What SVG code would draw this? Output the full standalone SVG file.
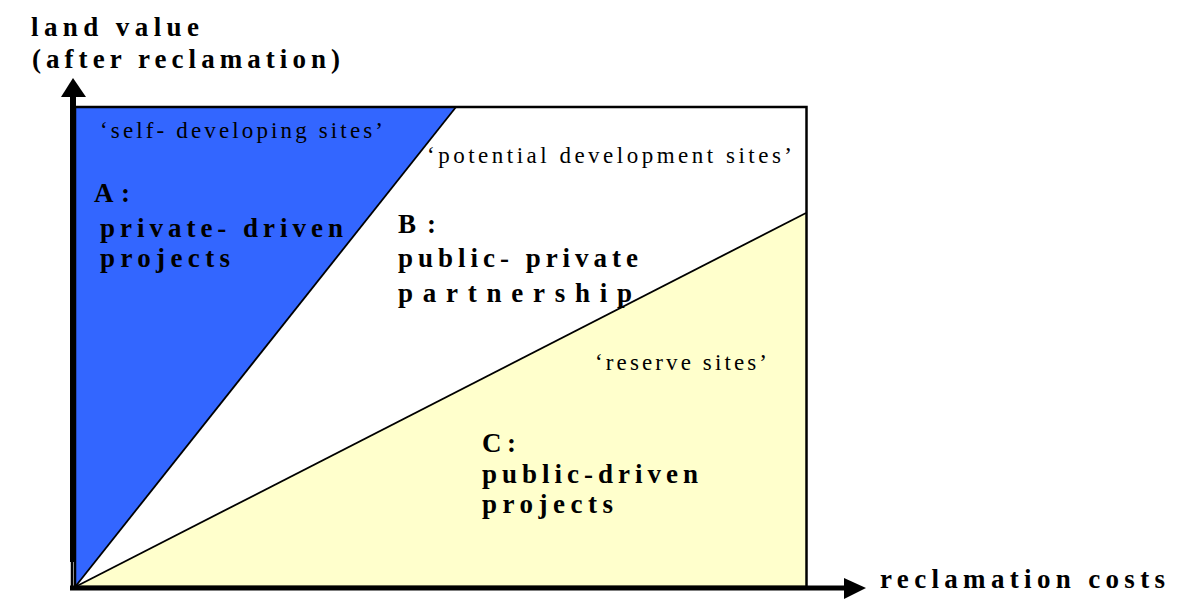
<svg xmlns="http://www.w3.org/2000/svg" width="1200" height="613" viewBox="0 0 1200 613">
<style>
.axis{stroke:#000;fill:none}
.big{font-family:"Liberation Serif",serif;font-weight:bold;font-size:27px;fill:#000}
.small{font-family:"Liberation Serif",serif;font-size:23px;fill:#000}
</style>
<rect width="1200" height="613" fill="#fff"/>
<g id="regions">
<polygon id="region-A" points="75,107 456,107 75,587" fill="#3366ff"/>
<polygon id="region-C" points="75,587 806,213 806,587" fill="#ffffcc"/>
<rect x="75" y="107" width="731.5" height="480" fill="none" stroke="#000" stroke-width="2.5"/>
</g>
<g id="connectors">
<line x1="456" y1="107" x2="75" y2="587" stroke="#000" stroke-width="1.8"/>
<line x1="806" y1="213" x2="75" y2="587" stroke="#000" stroke-width="1.8"/>
<line class="axis" x1="73" y1="95" x2="73" y2="562" stroke-width="6"/>
<line class="axis" x1="72" y1="560" x2="72" y2="588" stroke-width="2.5"/>
<polygon points="73,78 86,97 61,97" fill="#000"/>
<line class="axis" x1="70" y1="588" x2="848" y2="588" stroke-width="5"/>
<polygon points="866,588 844,578 844,599" fill="#000"/>
</g>
<g id="y-axis-label">
<text class="big" x="31" y="36" textLength="168" lengthAdjust="spacing">land value</text>
<text class="big" x="32" y="68" textLength="308" lengthAdjust="spacing">(after reclamation)</text>
</g>
<g id="x-axis-label">
<text class="big" x="880" y="588" textLength="285" lengthAdjust="spacing">reclamation costs</text>
</g>
<g id="node-A">
<text class="small" x="100" y="138" textLength="283" lengthAdjust="spacing">‘self- developing sites’</text>
<text class="big" x="94" y="202" textLength="36" lengthAdjust="spacing">A:</text>
<text class="big" x="100" y="237" textLength="243" lengthAdjust="spacing">private- driven</text>
<text class="big" x="100" y="267" textLength="130" lengthAdjust="spacing">projects</text>
</g>
<g id="node-B">
<text class="small" x="427" y="163" textLength="365" lengthAdjust="spacing">‘potential development  sites’</text>
<text class="big" x="398" y="233" textLength="38" lengthAdjust="spacing">B:</text>
<text class="big" x="398" y="267" textLength="240" lengthAdjust="spacing">public- private</text>
<text class="big" x="398" y="302" textLength="234" lengthAdjust="spacing">partnership</text>
</g>
<g id="node-C">
<text class="small" x="595" y="370" textLength="172" lengthAdjust="spacing">‘reserve sites’</text>
<text class="big" x="482" y="452" font-size="26" textLength="34" lengthAdjust="spacing">C:</text>
<text class="big" x="482" y="483" textLength="216" lengthAdjust="spacing">public-driven</text>
<text class="big" x="482" y="513" textLength="131" lengthAdjust="spacing">projects</text>
</g>
</svg>
